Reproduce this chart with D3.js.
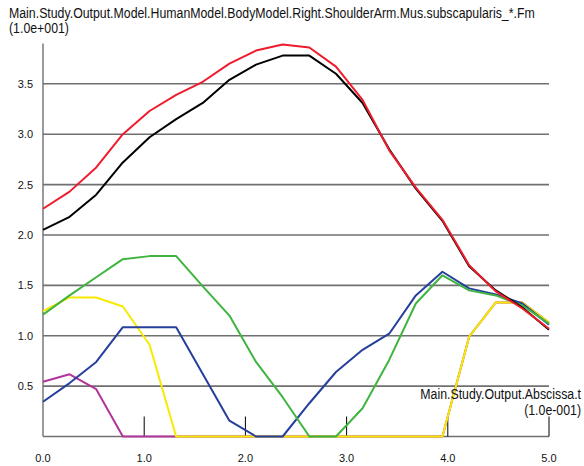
<!DOCTYPE html>
<html>
<head>
<meta charset="utf-8">
<title>subscapularis Fm</title>
<script src="https://d3js.org/d3.v7.min.js"></script>
<style>
  body { margin: 0; background: #fff; }
  text { font-family: "Liberation Sans", Arial, sans-serif; fill: #111; }
</style>
</head>
<body>
<div id="chart"></div>
<script>
// time samples (x 1.0e-001)
var tValues = [0, 0.263, 0.526, 0.789, 1.053, 1.316, 1.579, 1.842, 2.105, 2.368,
               2.632, 2.895, 3.158, 3.421, 3.684, 3.947, 4.211, 4.474, 4.737, 5.0];

// muscle force per element (x 1.0e+001)
var fmMagenta = [0.544, 0.617, 0.47, 0, 0, 0, 0, 0, 0, 0, 0, 0, 0, 0, 0, 0, 0.99, 1.33, 1.33, 1.13];
var fmYellow  = [1.245, 1.38, 1.38, 1.29, 0.91, 0, 0, 0, 0, 0, 0, 0, 0, 0, 0, 0, 0.99, 1.33, 1.33, 1.13];
var fmBlue    = [0.345, 0.53, 0.74, 1.085, 1.085, 1.085, 0.62, 0.157, 0, 0, 0.33, 0.64, 0.86, 1.02, 1.40, 1.635, 1.47, 1.41, 1.32, 1.11];
var fmGreen   = [1.21, 1.40, 1.58, 1.76, 1.79, 1.79, 1.49, 1.20, 0.74, 0.39, 0, 0, 0.28, 0.76, 1.32, 1.60, 1.45, 1.40, 1.30, 1.12];
var fmBlack   = [2.05, 2.18, 2.40, 2.72, 2.97, 3.15, 3.31, 3.54, 3.69, 3.78, 3.78, 3.60, 3.31, 2.85, 2.46, 2.14, 1.69, 1.45, 1.28, 1.06];
var fmRed     = [2.26, 2.43, 2.67, 3.00, 3.23, 3.39, 3.52, 3.70, 3.83, 3.89, 3.86, 3.67, 3.34, 2.84, 2.47, 2.15, 1.70, 1.44, 1.27, 1.07];

var yTicks = [0.5, 1.0, 1.5, 2.0, 2.5, 3.0, 3.5];
var xTicks = [0.0, 1.0, 2.0, 3.0, 4.0, 5.0];

var titleLines = ["Main.Study.Output.Model.HumanModel.BodyModel.Right.ShoulderArm.Mus.subscapularis_*.Fm", "(1.0e+001)"];
var xTitleLines = ["Main.Study.Output.Abscissa.t", "(1.0e-001)"];

var width = 584, height = 466;
var plotLeft = 43, plotRight = 549, plotTop = 43.5, plotBottom = 436.5;

var svg = d3.select("#chart").append("svg")
    .attr("width", width)
    .attr("height", height);

var x = d3.scaleLinear().domain([0, 5]).range([plotLeft, plotRight]);
var y = d3.scaleLinear().domain([0, 3.9]).range([plotBottom, plotTop]);

// horizontal grid
svg.append("g")
  .selectAll("line")
  .data(yTicks)
  .enter().append("line")
    .attr("x1", plotLeft).attr("x2", plotRight)
    .attr("y1", function(d) { return y(d); })
    .attr("y2", function(d) { return y(d); })
    .style("stroke", "#707070")
    .style("stroke-width", 1.6);

// baseline + left axis
svg.append("line")
    .attr("x1", plotLeft).attr("x2", plotRight)
    .attr("y1", y(0)).attr("y2", y(0))
    .style("stroke", "#707070").style("stroke-width", 1.6);
svg.append("line")
    .attr("x1", plotLeft).attr("x2", plotLeft)
    .attr("y1", plotTop).attr("y2", y(0))
    .style("stroke", "#707070").style("stroke-width", 1.4);

// short ticks on the x axis
svg.append("g")
  .selectAll("line")
  .data(xTicks.slice(1))
  .enter().append("line")
    .attr("x1", function(d) { return x(d); })
    .attr("x2", function(d) { return x(d); })
    .attr("y1", y(0) - 20).attr("y2", y(0))
    .style("stroke", "#000")
    .style("stroke-width", 1);

// tick labels
svg.append("g")
  .selectAll("text")
  .data(yTicks)
  .enter().append("text")
    .attr("x", 33)
    .attr("y", function(d) { return y(d) + 4; })
    .attr("text-anchor", "end")
    .style("font-size", "11px")
    .text(function(d) { return d3.format(".1f")(d); });

svg.append("g")
  .selectAll("text")
  .data(xTicks)
  .enter().append("text")
    .attr("x", function(d) { return x(d); })
    .attr("y", 462)
    .attr("text-anchor", "middle")
    .style("font-size", "11px")
    .text(function(d) { return d3.format(".1f")(d); });

// series, back to front
var series = [
  { values: fmMagenta, color: "#b2349a" },
  { values: fmYellow,  color: "#f7ea00" },
  { values: fmBlue,    color: "#273f9c" },
  { values: fmGreen,   color: "#3fb43f" },
  { values: fmBlack,   color: "#000000" },
  { values: fmRed,     color: "#ee1c2c" }
];

var line = d3.line()
    .x(function(d, i) { return x(tValues[i]); })
    .y(function(d) { return y(d); });

svg.append("g")
  .selectAll("path")
  .data(series)
  .enter().append("path")
    .attr("d", function(d) { return line(d.values); })
    .style("fill", "none")
    .style("stroke", function(d) { return d.color; })
    .style("stroke-width", 2)
    .style("stroke-linejoin", "round");

// titles (narrow face, squeezed horizontally)
var squeeze = 0.88;
function squeezed(sel) {
  sel.each(function() {
    var w = this.getComputedTextLength();
    d3.select(this).attr("textLength", w * squeeze).attr("lengthAdjust", "spacingAndGlyphs");
  });
}

svg.append("g")
  .selectAll("text")
  .data(titleLines)
  .enter().append("text")
    .attr("x", 9)
    .attr("y", function(d, i) { return 18 + i * 15; })
    .style("font-size", "14px")
    .text(function(d) { return d; })
    .call(squeezed);

var xt = svg.append("g")
  .selectAll("text")
  .data(xTitleLines)
  .enter().append("text")
    .attr("y", function(d, i) { return 399 + i * 16; })
    .style("font-size", "14px")
    .text(function(d) { return d; })
    .call(squeezed);
xt.attr("x", function() { return 581 - this.getAttribute("textLength"); });
</script>
</body>
</html>
